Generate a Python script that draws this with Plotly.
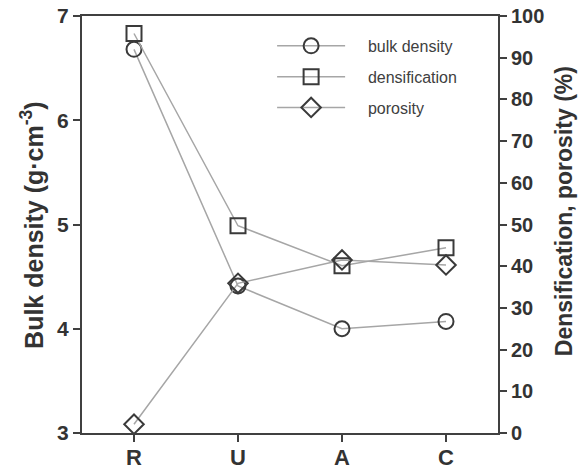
import plotly.graph_objects as go

categories = ["R", "U", "A", "C"]
bulk_density = [6.68, 4.41, 4.00, 4.07]
densification = [95.8, 49.7, 40.1, 44.4]
porosity = [2.1, 35.9, 41.5, 40.3]
series_names = ["bulk density", "densification", "porosity"]

axis_color = "#404040"
line_color = "#a6a6a6"
marker_line = "#3a3a3a"
text_color = "#333333"
font_family = "Liberation Sans, Arial, sans-serif"
pad = "\u00a0" * 4

fig = go.Figure()

def add(name, y, symbol, yaxis, size):
    fig.add_trace(go.Scatter(
        x=categories, y=y, name=pad + name, yaxis=yaxis, legendgroup=name,
        mode="lines+markers",
        line=dict(color=line_color, width=1.5),
        marker=dict(symbol=symbol, size=size, color="rgba(255,255,255,0)",
                    line=dict(color=marker_line, width=2)),
    ))

add(series_names[0], bulk_density, "circle", "y", 15)
add(series_names[1], densification, "square", "y2", 15)
add(series_names[2], porosity, "diamond", "y2", 15)

fig.update_layout(
    width=585, height=472,
    margin=dict(l=82, r=87, t=16, b=39, autoexpand=False),
    paper_bgcolor="white", plot_bgcolor="white",
    font=dict(family=font_family, color=axis_color),
    showlegend=True,
    legend=dict(x=0.457, y=0.969, xanchor="left", yanchor="top",
                font=dict(size=16, color="#404040"),
                bgcolor="rgba(0,0,0,0)", tracegroupgap=7, itemwidth=68),
    xaxis=dict(
        type="category", range=[-0.5, 3.5], automargin=False,
        showline=True, linecolor=axis_color, linewidth=2, mirror=True,
        ticks="outside", ticklen=7, tickwidth=2, tickcolor=axis_color,
        tickfont=dict(size=22, family=font_family, color=text_color, weight="bold"),
        ticklabeloverflow="allow", ticklabelstandoff=-3,
        showgrid=False, zeroline=False,
    ),
    yaxis=dict(
        range=[3, 7], dtick=1, automargin=False,
        showline=True, linecolor=axis_color, linewidth=2,
        ticks="outside", ticklen=7, tickwidth=2, tickcolor=axis_color,
        tickfont=dict(size=21, family=font_family, color=text_color, weight="bold"),
        ticklabeloverflow="allow",
        showgrid=False, zeroline=False,
    ),
    yaxis2=dict(
        range=[0, 100], dtick=10, overlaying="y", side="right", automargin=False,
        showline=True, linecolor=axis_color, linewidth=2,
        ticks="outside", ticklen=7, tickwidth=2, tickcolor=axis_color,
        tickfont=dict(size=20, family=font_family, color=text_color, weight="bold"),
        ticklabeloverflow="allow",
        showgrid=False, zeroline=False,
    ),
    annotations=[
        dict(text="Bulk density (g·cm<sup>-3</sup>)", textangle=-90,
             xref="paper", yref="paper", x=-0.1202, y=0.499,
             xanchor="center", yanchor="middle", showarrow=False,
             font=dict(size=25, family=font_family, color=text_color, weight="bold")),
        dict(text="Densification, porosity (%)", textangle=-90,
             xref="paper", yref="paper", x=1.1587, y=0.532,
             xanchor="center", yanchor="middle", showarrow=False,
             font=dict(size=23, family=font_family, color=text_color, weight="bold")),
    ],
)

fig.write_html("out.html",
               config={"displayModeBar": False},
               post_script="document.body.style.margin='0';document.body.style.padding='0';")
